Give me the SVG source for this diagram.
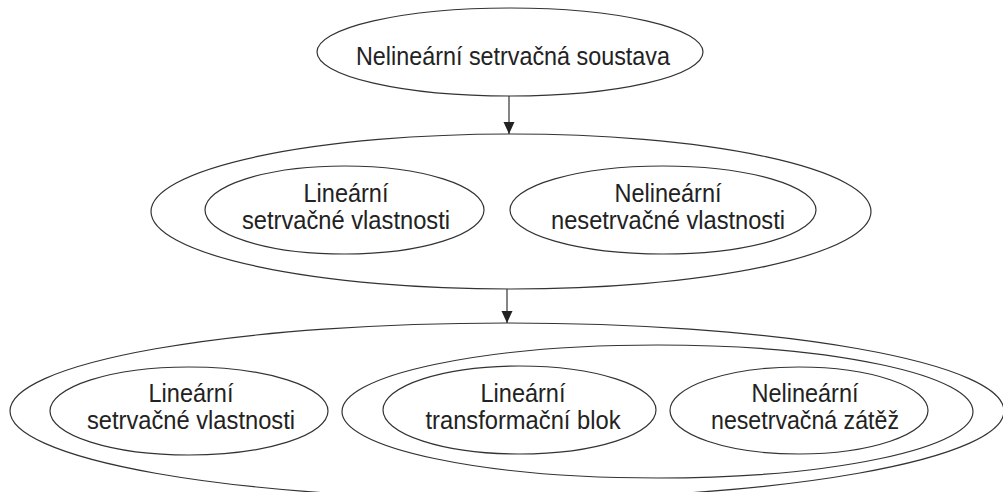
<svg xmlns="http://www.w3.org/2000/svg" width="1003" height="492" viewBox="0 0 1003 492">
  <style>
    .shape { fill: none; stroke: #333; stroke-width: 1.2; }
    .label { font-family: "Liberation Sans", Arial, sans-serif; font-size: 25px; fill: #222; text-anchor: middle; }
    .edge { stroke: #333; stroke-width: 1.2; fill: none; }
  </style>
  <defs>
    <marker id="arrow" markerUnits="userSpaceOnUse" markerWidth="12" markerHeight="12" refX="12" refY="5.5" orient="auto">
      <path d="M0,0 L12,5.5 L0,11 Z" fill="#222"/>
    </marker>
  </defs>

  <!-- top-level system -->
  <g id="system">
    <ellipse class="shape" cx="510" cy="52" rx="193" ry="44"/>
    <text class="label" x="513" y="65" textLength="314" lengthAdjust="spacingAndGlyphs">Nelineární setrvačná soustava</text>
  </g>

  <!-- first decomposition -->
  <g id="split1">
    <ellipse class="shape" cx="511" cy="211.5" rx="360" ry="77.5"/>
  </g>
  <g id="split1-linear">
    <ellipse class="shape" cx="344.5" cy="210" rx="139.5" ry="44"/>
    <text class="label" x="346" y="202" textLength="85" lengthAdjust="spacingAndGlyphs">Lineární</text>
    <text class="label" x="346" y="229" textLength="208" lengthAdjust="spacingAndGlyphs">setrvačné vlastnosti</text>
  </g>
  <g id="split1-nonlinear">
    <ellipse class="shape" cx="663" cy="210" rx="153" ry="44"/>
    <text class="label" x="668" y="202" textLength="107" lengthAdjust="spacingAndGlyphs">Nelineární</text>
    <text class="label" x="668" y="229" textLength="234" lengthAdjust="spacingAndGlyphs">nesetrvačné vlastnosti</text>
  </g>

  <!-- second decomposition -->
  <g id="split2">
    <ellipse class="shape" cx="507" cy="411" rx="497" ry="88"/>
  </g>
  <g id="split2-linear">
    <ellipse class="shape" cx="189" cy="411" rx="139" ry="44"/>
    <text class="label" x="191" y="402" textLength="85" lengthAdjust="spacingAndGlyphs">Lineární</text>
    <text class="label" x="191" y="429" textLength="208" lengthAdjust="spacingAndGlyphs">setrvačné vlastnosti</text>
  </g>
  <g id="split2-static">
    <ellipse class="shape" cx="657.5" cy="411.5" rx="315.5" ry="66.5"/>
  </g>
  <g id="split2-transform">
    <ellipse class="shape" cx="519.5" cy="410" rx="136.5" ry="44"/>
    <text class="label" x="523" y="402" textLength="85" lengthAdjust="spacingAndGlyphs">Lineární</text>
    <text class="label" x="523" y="429" textLength="195" lengthAdjust="spacingAndGlyphs">transformační blok</text>
  </g>
  <g id="split2-load">
    <ellipse class="shape" cx="799" cy="410.5" rx="129" ry="43.5"/>
    <text class="label" x="805" y="402" textLength="107" lengthAdjust="spacingAndGlyphs">Nelineární</text>
    <text class="label" x="805" y="429" textLength="188" lengthAdjust="spacingAndGlyphs">nesetrvačná zátěž</text>
  </g>

  <!-- connectors -->
  <g id="connectors">
    <line class="edge" x1="509" y1="96" x2="509" y2="134" marker-end="url(#arrow)"/>
    <line class="edge" x1="507" y1="289" x2="507" y2="323" marker-end="url(#arrow)"/>
  </g>
</svg>
